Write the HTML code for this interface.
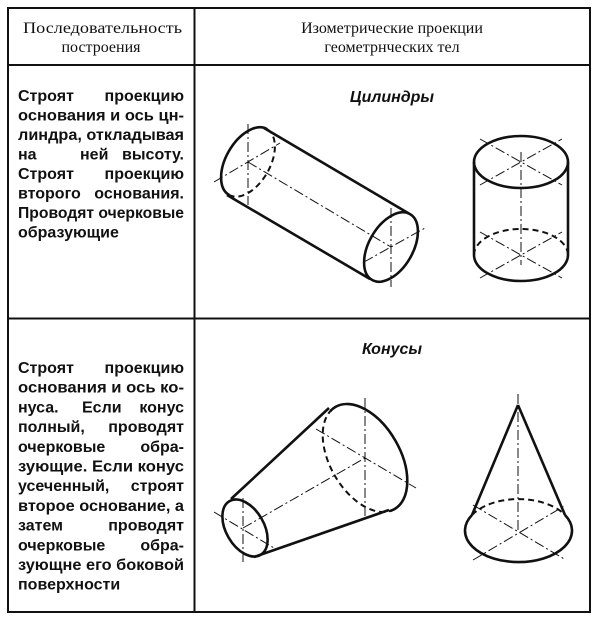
<!DOCTYPE html>
<html><head><meta charset="utf-8"><style>
html,body{margin:0;padding:0;background:#fff;}
svg{display:block;}
.t{font-family:"Liberation Sans Narrow","Liberation Sans",sans-serif;font-weight:bold;font-size:16px;fill:#111;}
.h{font-family:"Liberation Serif",serif;font-size:16px;fill:#111;}
.o{fill:none;stroke:#111;stroke-width:2.6;}
.d{fill:none;stroke:#111;stroke-width:2;stroke-dasharray:6 4;}
.c{fill:none;stroke:#111;stroke-width:1;stroke-dasharray:10 3 2 3;}
</style></head><body>
<svg width="600" height="621" viewBox="0 0 600 621" xmlns="http://www.w3.org/2000/svg">
<defs>
<clipPath id="c1"><polygon points="0,0 341,0 169,300 0,300"/></clipPath>
<clipPath id="c2"><polygon points="265,300 600,300 600,620 454,620"/></clipPath>
</defs>
<rect x="8" y="8" width="582" height="604" fill="none" stroke="#111" stroke-width="2"/>
<line x1="8" y1="65" x2="590" y2="65" stroke="#111" stroke-width="2"/>
<line x1="8" y1="318.5" x2="590" y2="318.5" stroke="#111" stroke-width="2"/>
<line x1="194.5" y1="8" x2="194.5" y2="612" stroke="#111" stroke-width="2"/>
<text class="h" x="23" y="33" textLength="159" lengthAdjust="spacingAndGlyphs">Последовательность</text>
<text class="h" x="101" y="52" text-anchor="middle">построения</text>
<text class="h" x="392" y="33" text-anchor="middle">Изометрические проекции</text>
<text class="h" x="392" y="52" text-anchor="middle">геометрнческих тел</text>
<g class="t">
<text x="18" y="101">Строят</text><text x="184" y="101" text-anchor="end">проекцию</text>
<text x="18" y="120.5" textLength="166" lengthAdjust="spacingAndGlyphs">основания и ось цн-</text>
<text x="18" y="140" textLength="166" lengthAdjust="spacingAndGlyphs">линдра, откладывая</text>
<text x="18" y="159.5">на</text><text x="80" y="159.5">ней</text><text x="184" y="159.5" text-anchor="end">высоту.</text>
<text x="18" y="179">Строят</text><text x="184" y="179" text-anchor="end">проекцию</text>
<text x="18" y="198.5">второго</text><text x="184" y="198.5" text-anchor="end">основания.</text>
<text x="18" y="218" textLength="166" lengthAdjust="spacingAndGlyphs">Проводят очерковые</text>
<text x="18" y="237.5">образующие</text>
</g>
<g class="t">
<text x="18" y="373">Строят</text><text x="184" y="373" text-anchor="end">проекцию</text>
<text x="18" y="392.7" textLength="166" lengthAdjust="spacingAndGlyphs">основания и ось ко-</text>
<text x="18" y="412.4">нуса.</text><text x="82" y="412.4">Если</text><text x="184" y="412.4" text-anchor="end">конус</text>
<text x="18" y="432.1">полный,</text><text x="184" y="432.1" text-anchor="end">проводят</text>
<text x="18" y="451.8">очерковые</text><text x="184" y="451.8" text-anchor="end">обра-</text>
<text x="18" y="471.5" textLength="166" lengthAdjust="spacingAndGlyphs">зующие. Если конус</text>
<text x="18" y="491.2">усеченный,</text><text x="184" y="491.2" text-anchor="end">строят</text>
<text x="18" y="510.9" textLength="166" lengthAdjust="spacingAndGlyphs">второе основание, а</text>
<text x="18" y="530.6">затем</text><text x="184" y="530.6" text-anchor="end">проводят</text>
<text x="18" y="550.3">очерковые</text><text x="184" y="550.3" text-anchor="end">обра-</text>
<text x="18" y="570" textLength="166" lengthAdjust="spacingAndGlyphs">зующне его боковой</text>
<text x="18" y="589.7">поверхности</text>
</g>
<text class="t" x="392" y="102" text-anchor="middle" font-style="italic">Цилиндры</text>
<text class="t" x="392" y="354" text-anchor="middle" font-style="italic">Конусы</text>

<ellipse class="d" cx="248" cy="162" rx="38" ry="22" transform="rotate(-60 248 162)"/>
<g clip-path="url(#c1)"><ellipse class="o" cx="248" cy="162" rx="38" ry="22" transform="rotate(-60 248 162)"/></g>
<ellipse class="o" cx="391" cy="247" rx="38" ry="22" transform="rotate(-60 391 247)"/>
<line class="o" x1="264" y1="128" x2="408" y2="213"/>
<line class="o" x1="227" y1="195" x2="370" y2="279"/>
<line class="c" x1="248" y1="124" x2="248" y2="205"/>
<line class="c" x1="214" y1="182" x2="280" y2="143"/>
<line class="c" x1="248" y1="162" x2="391" y2="247"/>
<line class="c" x1="391" y1="208" x2="391" y2="287"/>
<line class="c" x1="364" y1="262" x2="425" y2="228"/>

<ellipse class="o" cx="521" cy="162" rx="47" ry="26"/>
<path class="d" d="M474,255 A47,26 0 0 1 568,255"/>
<path class="o" d="M474,255 A47,26 0 0 0 568,255"/>
<line class="o" x1="474" y1="162" x2="474" y2="255"/>
<line class="o" x1="568" y1="162" x2="568" y2="255"/>
<line class="c" x1="521" y1="152" x2="521" y2="265"/>
<line class="c" x1="480" y1="139" x2="562" y2="185"/>
<line class="c" x1="480" y1="185" x2="562" y2="139"/>
<line class="c" x1="480" y1="232" x2="562" y2="278"/>
<line class="c" x1="480" y1="278" x2="562" y2="232"/>

<ellipse class="d" cx="365" cy="458" rx="59" ry="35" transform="rotate(60 365 458)"/>
<g clip-path="url(#c2)"><ellipse class="o" cx="365" cy="458" rx="59" ry="35" transform="rotate(60 365 458)"/></g>
<ellipse class="o" cx="245" cy="528" rx="31" ry="19" transform="rotate(60 245 528)"/>
<line class="o" x1="231" y1="499" x2="329" y2="408"/>
<line class="o" x1="254" y1="557" x2="389" y2="510"/>
<line class="c" x1="365" y1="398" x2="365" y2="516"/>
<line class="c" x1="316" y1="429" x2="416" y2="488"/>
<line class="c" x1="243" y1="498" x2="243" y2="564"/>
<line class="c" x1="214" y1="512" x2="274" y2="548"/>
<line class="c" x1="243" y1="528" x2="365" y2="458"/>

<path class="d" d="M472,515 A53.5,31.5 0 0 1 565,515"/>
<path class="o" d="M472,515 A53.5,31.5 0 1 0 565,515"/>
<line class="o" x1="518" y1="405" x2="472" y2="515"/>
<line class="o" x1="518" y1="405" x2="565" y2="515"/>
<line class="c" x1="518" y1="394" x2="518" y2="533"/>
<line class="c" x1="473" y1="505" x2="566" y2="560"/>
<line class="c" x1="473" y1="560" x2="566" y2="505"/>
</svg>
</body></html>
